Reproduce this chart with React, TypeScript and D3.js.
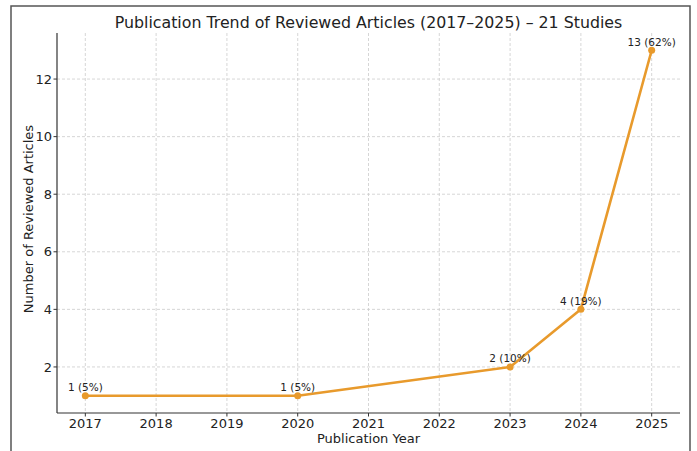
import React from "react";
import * as d3 from "d3";

const years = [2017, 2020, 2023, 2024, 2025];
const counts = [1, 1, 2, 4, 13];
const percents = [5, 5, 10, 19, 62];
const xTicks = [2017, 2018, 2019, 2020, 2021, 2022, 2023, 2024, 2025];
const yTicks = [2, 4, 6, 8, 10, 12];

const W = 697;
const H = 451;
const margin = { left: 57, right: 17, top: 33, bottom: 38 };
const FONT = "DejaVu Sans, sans-serif";
const LINE = "#e89a2c";

export default function App() {
  const x = d3
    .scaleLinear()
    .domain([2016.6, 2025.4])
    .range([margin.left, W - margin.right]);
  const y = d3
    .scaleLinear()
    .domain([0.4, 13.6])
    .range([H - margin.bottom, margin.top]);

  const line = d3
    .line<number>()
    .x((_, i) => x(years[i]))
    .y((d) => y(d));

  const x0 = margin.left;
  const x1 = W - margin.right;
  const y0 = H - margin.bottom;
  const y1 = margin.top;

  return (
    <svg
      width={W}
      height={H}
      style={{ position: "absolute", left: 0, top: 0, background: "#fff" }}
      fontFamily={FONT}
    >
      {/* outer frame */}
      <path d={`M11,${H + 5} V6 H690 V${H + 5}`} fill="none" stroke="#555" strokeWidth={1.5} />

      {/* grid */}
      {xTicks.map((t) => (
        <line key={"gx" + t} x1={x(t)} x2={x(t)} y1={y1} y2={y0} stroke="#ccc" strokeWidth={0.8} strokeDasharray="3,2" />
      ))}
      {yTicks.map((t) => (
        <line key={"gy" + t} x1={x0} x2={x1} y1={y(t)} y2={y(t)} stroke="#ccc" strokeWidth={0.8} strokeDasharray="3,2" />
      ))}

      {/* axes */}
      <line x1={x0} x2={x0} y1={y1} y2={y0} stroke="#333" strokeWidth={1.2} />
      <line x1={x0} x2={x1} y1={y0} y2={y0} stroke="#333" strokeWidth={1.2} />
      {xTicks.map((t) => (
        <g key={"xt" + t}>
          <line x1={x(t)} x2={x(t)} y1={y0} y2={y0 + 3.5} stroke="#333" strokeWidth={1} />
          <text x={x(t)} y={y0 + 14.5} textAnchor="middle" fontSize={13} fill="#222">
            {t}
          </text>
        </g>
      ))}
      {yTicks.map((t) => (
        <g key={"yt" + t}>
          <line x1={x0 - 3.5} x2={x0} y1={y(t)} y2={y(t)} stroke="#333" strokeWidth={1} />
          <text x={x0 - 5} y={y(t) + 4.7} textAnchor="end" fontSize={13} fill="#222">
            {t}
          </text>
        </g>
      ))}

      {/* series */}
      <path d={line(counts) || ""} fill="none" stroke={LINE} strokeWidth={2.6} strokeLinejoin="round" />
      {counts.map((c, i) => (
        <circle key={"p" + i} cx={x(years[i])} cy={y(c)} r={3.5} fill={LINE} />
      ))}
      {counts.map((c, i) => (
        <text key={"l" + i} x={x(years[i])} y={y(c) - 4.5} textAnchor="middle" fontSize={10.5} fill="#222">
          {`${c} (${percents[i]}%)`}
        </text>
      ))}

      {/* titles */}
      <text x={(x0 + x1) / 2} y={28} textAnchor="middle" fontSize={15.8} fill="#222">
        Publication Trend of Reviewed Articles (2017–2025) – 21 Studies
      </text>
      <text x={(x0 + x1) / 2} y={443} textAnchor="middle" fontSize={13} fill="#222">
        Publication Year
      </text>
      <text
        transform={`translate(32.5,219) rotate(-90)`}
        textAnchor="middle"
        fontSize={13}
        fill="#222"
      >
        Number of Reviewed Articles
      </text>
    </svg>
  );
}
